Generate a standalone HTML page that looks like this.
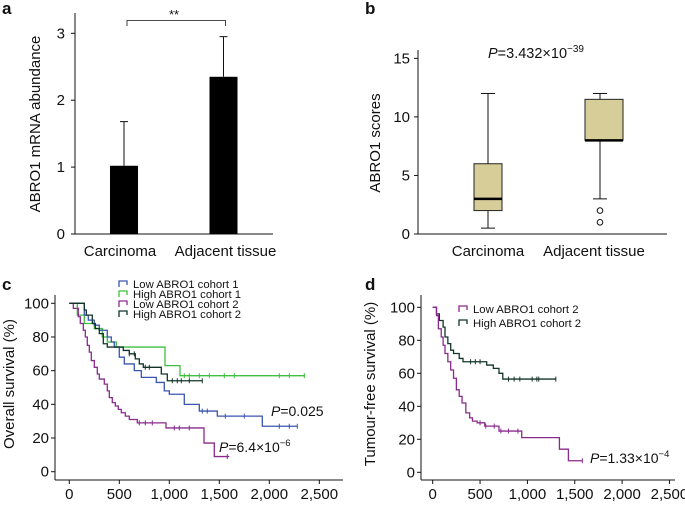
<!DOCTYPE html>
<html><head><meta charset="utf-8"><style>
body{margin:0;background:#fff}
svg{display:block;font-family:"Liberation Sans",Arial,sans-serif}
</style></head><body>
<svg id="fig" width="685" height="507" viewBox="0 0 685 507">
</svg>
<script>
// ---- data ----
const barCats=["Carcinoma","Adjacent tissue"];
const barVals=[1.02,2.35];
const barErr=[1.68,2.95];
const aTicks=[0,1,2,3];
const boxCats=["Carcinoma","Adjacent tissue"];
const boxMin=[0.5,3];
const boxQ1=[2,8];
const boxMed=[3,8];
const boxQ3=[6,11.5];
const boxMax=[12,12];
const boxOut=[[],[2,1]];
const bTicks=[0,5,10,15];
const kmTicks=[0,20,40,60,80,100];
const dayTicks=[0,500,1000,1500,2000,2500];
const dayLabels=["0","500","1,000","1,500","2,000","2,500"];
const cBlueT=[0,150,190,250,300,380,420,450,500,550,650,720,870,950,1000,1150,1300,1480,1930,2280];
const cBlueS=[100,93,90,87,84,80,77,74,68,64,60,56,53,48,46,40,36,33,27,27];
const cGreenT=[0,80,150,250,330,380,470,957,1107,2357];
const cGreenS=[100,93,88,85,80,77,74,63,57,57];
const cPurpT=[0,40,90,110,140,160,180,200,220,250,280,300,350,380,400,430,460,490,520,560,600,680,967,1347,1450,1600];
const cPurpS=[100,97,92,88,84,80,75,71,66,62,58,55,52,48,44,41,39,37,35,33,31,29,26,17,9,9];
const cDarkT=[0,70,150,170,230,260,300,340,380,540,600,660,700,740,920,980,1330];
const cDarkS=[100,100,96,93,88,85,82,76,74,72,70,67,64,62,58,54,54];
const dPurpT=[0,40,60,90,110,130,160,190,220,250,280,310,350,390,420,470,550,700,940,1338,1433,1580];
const dPurpS=[100,95,87,82,77,72,67,62,57,50,46,42,36,33,31,30,28,25,21,14,7,7];
const dDarkT=[0,40,70,110,130,160,190,220,280,320,570,640,700,740,1300];
const dDarkS=[100,96,92,88,82,78,74,72,69,67,65,63,60,56.5,56.5];
const cBlueCens=[1330,1380,1560,1750,2100,2200,2280];
const cGreenCens=[1150,1200,1300,1400,1550,1650,2100,2200,2350];
const cPurpCens=[700,760,830,1050,1100,1200,1580];
const cDarkCens=[600,650,760,800,1030,1080,1120,1200,1330];
const dPurpCens=[500,560,650,720,800,900,1580];
const dDarkCens=[400,450,500,800,860,920,1050,1100,1120,1300];

const NS="http://www.w3.org/2000/svg";
const svg=document.getElementById('fig');
function el(tag,attrs,parent,txt){const e=document.createElementNS(NS,tag);for(const k in attrs)e.setAttribute(k,attrs[k]);if(txt!==undefined)e.textContent=txt;(parent||svg).appendChild(e);return e;}
function txt(x,y,s,size,anchor,parent,extra){const e=el('text',Object.assign({x:x,y:y,'font-size':size,'text-anchor':anchor||'middle',fill:'#111'},extra||{}),parent,s);return e;}

[["a",2,14],["b",365,14],["c",2,290],["d",365,290]].forEach(p=>{
 const t=txt(p[1],p[2],p[0],17,'start',null,{'font-weight':'bold'});
 
 
});

// ---- panel a ----
const ga=el('g',{});


const aY=v=>234-v*66.9;
const aX=i=>124+i*99.5;
el('line',{x1:75,y1:13,x2:75,y2:234,stroke:'#111','stroke-width':1},ga);
el('line',{x1:75,y1:234,x2:273,y2:234,stroke:'#111','stroke-width':1},ga);
aTicks.forEach(v=>{el('line',{x1:71,x2:75,y1:aY(v),y2:aY(v),stroke:'#111'},ga);txt(65,aY(v)+5,String(v),15,'end',ga);});
barCats.forEach((c,i)=>{
 const b=el('rect',{x:aX(i)-14,y:aY(barVals[i]),width:28,height:aY(0)-aY(barVals[i]),fill:'#000'},ga);
 
 
 el('line',{x1:aX(i),x2:aX(i),y1:aY(barVals[i]),y2:aY(barErr[i]),stroke:'#111'},ga);
 el('line',{x1:aX(i)-4,x2:aX(i)+4,y1:aY(barErr[i]),y2:aY(barErr[i]),stroke:'#111'},ga);
 txt(aX(i)+(i?2:-4),256,c,15,'middle',ga);
});
el('path',{d:`M${aX(0)+3},26 V20.5 H${aX(1)+2} V26`,fill:'none',stroke:'#111','stroke-width':0.8},ga);
txt(174,19,'**',13,'middle',ga);
const at=txt(0,0,'ABRO1 mRNA abundance',15,'middle',ga,{transform:'translate(40,124) rotate(-90)'});



// ---- panel b ----
const gb=el('g',{});


const bY=v=>234-v*11.71;
const boxL=[474,585],boxR=[502,623],whX=[488,600];
el('line',{x1:418,y1:50,x2:418,y2:234,stroke:'#111'},gb);
el('line',{x1:418,y1:234,x2:667,y2:234,stroke:'#111'},gb);
bTicks.forEach(v=>{el('line',{x1:414,x2:418,y1:bY(v),y2:bY(v),stroke:'#111'},gb);txt(410,bY(v)+5,String(v),15,'end',gb);});
boxCats.forEach((c,i)=>{
 el('line',{x1:whX[i],x2:whX[i],y1:bY(boxMin[i]),y2:bY(boxMax[i]),stroke:'#111'},gb);
 el('line',{x1:whX[i]-7,x2:whX[i]+7,y1:bY(boxMin[i]),y2:bY(boxMin[i]),stroke:'#111'},gb);
 el('line',{x1:whX[i]-7,x2:whX[i]+7,y1:bY(boxMax[i]),y2:bY(boxMax[i]),stroke:'#111'},gb);
 const r=el('rect',{x:boxL[i],y:bY(boxQ3[i]),width:boxR[i]-boxL[i],height:bY(boxQ1[i])-bY(boxQ3[i]),fill:'#d6cd98',stroke:'#222','stroke-width':1},gb);
 
 
 el('line',{x1:boxL[i],x2:boxR[i],y1:bY(boxMed[i]),y2:bY(boxMed[i]),stroke:'#000','stroke-width':2.5},gb);
 boxOut[i].forEach(o=>el('circle',{cx:whX[i],cy:bY(o),r:2.8,fill:'none',stroke:'#111'},gb));
 txt(i?594:488,256,c,15,'middle',gb);
});
const pb=txt(488,58,'',14.5,'start',gb);
pb.innerHTML='<tspan font-style="italic">P</tspan>=3.432×10<tspan font-size="10" dy="-6">−39</tspan>';
txt(0,0,'ABRO1 scores',15,'middle',gb,{transform:'translate(380,143) rotate(-90)'});

// ---- KM panels ----
function km(g,x0,pxd,y0,y100,T,S,color,cens,name){
 const X=t=>x0+t*pxd,Y=s=>y0-(y0-y100)*s/100;
 let d=`M${X(T[0])},${Y(S[0])}`;
 for(let i=1;i<T.length;i++){d+=` H${X(T[i])} V${Y(S[i])}`;}
 const p=el('path',{d:d,fill:'none',stroke:color,'stroke-width':1.3},g);
 
 
 cens.forEach(c=>{let s=S[0];for(let i=0;i<T.length;i++){if(T[i]<=c)s=S[i];}
  el('line',{x1:X(c),x2:X(c),y1:Y(s)-2.5,y2:Y(s)+2.5,stroke:color,'stroke-width':1},g);});
}
function kmAxes(g,axX,x0,pxd,xEnd,y0,y100,title,tx){
 const X=t=>x0+t*pxd,Y=s=>y0-(y0-y100)*s/100;
 el('line',{x1:axX,y1:295,x2:axX,y2:480,stroke:'#111'},g);
 el('line',{x1:axX,y1:480,x2:xEnd,y2:480,stroke:'#111'},g);
 kmTicks.forEach(v=>{el('line',{x1:axX-4,x2:axX,y1:Y(v),y2:Y(v),stroke:'#111'},g);txt(axX-6,Y(v)+5,String(v),15,'end',g);});
 dayTicks.forEach((v,i)=>{el('line',{x1:X(v),x2:X(v),y1:480,y2:484,stroke:'#111'},g);txt(X(v),499,dayLabels[i],15,'middle',g);});
 txt(0,0,title,15,'middle',g,{transform:`translate(${tx},384) rotate(-90)`});
}
function legend(g,x,y,color,label){
 el('path',{d:`M${x},${y+3} V${y-3} H${x+8} V${y+1}`,fill:'none',stroke:color,'stroke-width':1.3},g);
 const t=txt(x+14,y+4,label,11.3,'start',g);
 
 
}
const BLUE='#3a55b0',GREEN='#3fbf3f',PURP='#8b2a8e',DARK='#12352a';
const gc=el('g',{});


const cx0=69.3,cpx=0.1,cy0=471.7,cy100=303.3;
kmAxes(gc,55,cx0,cpx,343,cy0,cy100,'Overall survival (%)',14);
km(gc,cx0,cpx,cy0,cy100,cGreenT,cGreenS,GREEN,cGreenCens,'line-high-cohort1');
km(gc,cx0,cpx,cy0,cy100,cBlueT,cBlueS,BLUE,cBlueCens,'line-low-cohort1');
km(gc,cx0,cpx,cy0,cy100,cPurpT,cPurpS,PURP,cPurpCens,'line-low-cohort2');
km(gc,cx0,cpx,cy0,cy100,cDarkT,cDarkS,DARK,cDarkCens,'line-high-cohort2');
legend(gc,119,284,BLUE,'Low ABRO1 cohort 1');
legend(gc,119,294,GREEN,'High ABRO1 cohort 1');
legend(gc,119,304,PURP,'Low ABRO1 cohort 2');
legend(gc,119,314,DARK,'High ABRO1 cohort 2');
const pc1=txt(271,416,'',14,'start',gc);pc1.innerHTML='<tspan font-style="italic">P</tspan>=0.025';
const pc2=txt(219,452,'',14,'start',gc);pc2.innerHTML='<tspan font-style="italic">P</tspan>=6.4×10<tspan font-size="9.5" dy="-6">−6</tspan>';

const gd=el('g',{});


const dx0=432.7,dpx=0.0947,dy0=472.3,dy100=307.3;
kmAxes(gd,421,dx0,dpx,675,dy0,dy100,'Tumour-free survival (%)',375);
km(gd,dx0,dpx,dy0,dy100,dDarkT,dDarkS,DARK,dDarkCens,'line-high-cohort2');
km(gd,dx0,dpx,dy0,dy100,dPurpT,dPurpS,PURP,dPurpCens,'line-low-cohort2');
legend(gd,459,309,PURP,'Low ABRO1 cohort 2');
legend(gd,459,323,DARK,'High ABRO1 cohort 2');
const pd=txt(590,463,'',14,'start',gd);pd.innerHTML='<tspan font-style="italic">P</tspan>=1.33×10<tspan font-size="9.5" dy="-6">−4</tspan>';
</script>
</body></html>
